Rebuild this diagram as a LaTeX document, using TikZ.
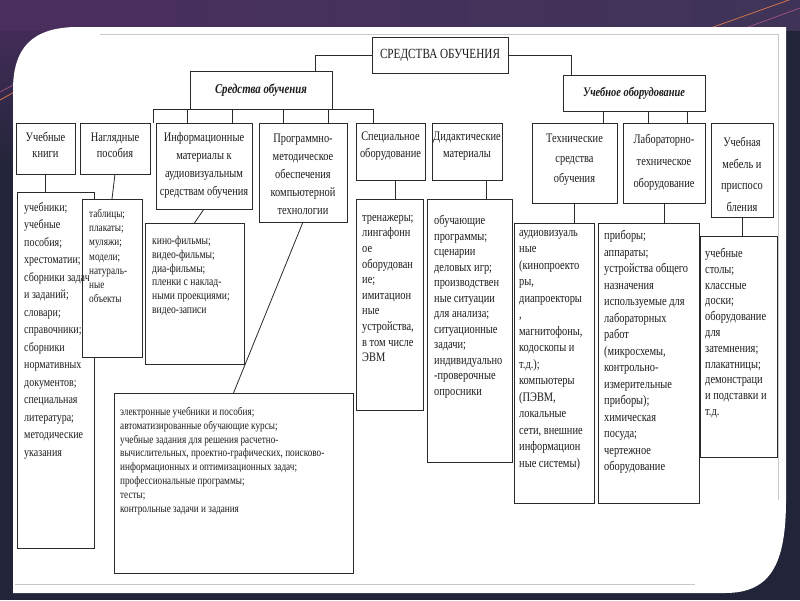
\documentclass[tikz,border=0pt]{standalone}
\usepackage{fontspec}
\setmainfont{Liberation Serif}[FakeStretch=0.8]
\usetikzlibrary{calc}
\definecolor{bgc}{HTML}{22253A}
\definecolor{bgp}{HTML}{4A2E5E}
\definecolor{bgt}{HTML}{34495A}
\definecolor{bgr}{HTML}{3F3458}
\definecolor{linec}{HTML}{2A2A2A}
\definecolor{txtc}{HTML}{1C1C1C}
\definecolor{framec}{HTML}{C8C8C8}
\definecolor{orangel}{HTML}{D2744C}
\definecolor{pinkl}{HTML}{B05A8A}
\tikzset{
  box/.style={draw=linec, line width=0.8pt, fill=white, inner sep=0pt, outer sep=0pt},
  conn/.style={draw=linec, line width=0.8pt},
  hd/.style={text=txtc, inner sep=0pt, align=center},
  ct/.style={text=txtc, inner sep=0pt, align=center, font=\fontsize{13}{#1}\selectfont},
  lt/.style 2 args={text=txtc, inner sep=0pt, align=left, anchor=north west, font=\fontsize{#1}{#2}\selectfont}
}
\newcommand\bx[5]{\node[box, anchor=north west, minimum width={(#4-#2)*1pt}, minimum height={(#5-#3)*1pt}] (#1) at (#2,#3) {};}
\begin{document}
\begin{tikzpicture}[x=1pt,y=-1pt]
\useasboundingbox (0,0) rectangle (800,600);
% background
\fill[bgc] (0,0) rectangle (800,600);
\shade[top color=bgp, bottom color=bgc] (0,0) rectangle (70,170);
\shade[left color=bgp, middle color=bgt, right color=bgr] (0,0) rectangle (800,30);
\draw[orangel, line width=0.8pt] (0,100) -- (75,58);
\draw[pinkl, line width=0.6pt] (0,92) -- (70,55);
\draw[orangel, line width=0.8pt] (705,30) -- (800,-4);
\draw[pinkl, line width=0.6pt] (740,30) -- (800,8);
% slide
\fill[white] (13,593) -- (13,90) .. controls (13,48) and (32,27) .. (78,27) -- (786,27) -- (786,500) .. controls (786,565) and (770,593) .. (725,593) -- cycle;
\draw[framec, line width=1pt] (100,34) -- (778,34) -- (778,500);
\draw[framec, line width=1pt] (15,584) -- (695,584);

% level 1 and 2
\bx{top}{372}{37}{508}{73}
\node[hd, font=\fontsize{14}{16}\selectfont] (topt) at (top.center) {СРЕДСТВА ОБУЧЕНИЯ};
\bx{sa}{190}{71}{332}{109}
\node[hd, font=\fontsize{13.5}{16}\selectfont\bfseries\itshape] (sat) at (sa.center) {Средства обучения};
\bx{sb}{563}{75}{705}{111}
\node[hd, font=\fontsize{13}{16}\selectfont\bfseries\itshape] (sbt) at (sb.center) {Учебное оборудование};
\draw[conn] (top.west) -| ($(sa.north)+(54,0)$);
\draw[conn] (top.east) -| ($(sb.north)+(-63,0)$);

% level 3 boxes
\bx{k1}{16}{123}{75}{174}
\bx{k2}{80}{123}{150}{174}
\bx{k3}{156}{123}{252}{209}
\bx{k4}{259}{123}{347}{222}
\bx{k5}{356}{123}{425}{180}
\bx{k6}{432}{123}{502}{180}
\bx{k7}{532}{123}{617}{203}
\bx{k8}{623}{123}{705}{203}
\bx{k9}{711}{123}{773}{217}
\node[ct=16] (k1t) at (45.5,145) {Учебные\\книги};
\node[ct=16] (k2t) at (115,145) {Наглядные\\пособия};
\node[ct=18] (k3t) at (204,165) {Информационные\\материалы к\\аудиовизуальным\\средствам обучения};
\node[ct=18] (k4t) at (303,174) {Программно-\\методическое\\обеспечения\\компьютерной\\технологии};
\node[ct=17] (k5t) at (390.5,146.5) {Специальное\\оборудование};
\node[ct=17] (k6t) at (467,146.5) {Дидактические\\материалы};
\node[ct=20] (k7t) at (574.5,160) {Технические\\средства\\обучения};
\node[ct=22] (k8t) at (664,162.5) {Лабораторно-\\техническое\\оборудование};
\node[ct=21.6] (k9t) at (742,174.5) {Учебная\\мебель и\\приспосо\\бления};

% buses level 2 -> level 3
\coordinate (lb1) at (153,109);
\coordinate (lb2) at (373,109);
\draw[conn] (lb1) -- (lb2);
\foreach \xx in {153,187,232,283,328,373}{
  \draw[conn] (\xx,109) -- (\xx,123);
}
\foreach \xx in {603,648,687}{
  \draw[conn] (sb.south -| \xx,0) -- (k7.north -| \xx,0);
}

% level 4 boxes
\bx{m1}{17}{192}{94}{548}
\bx{m2}{82}{199}{142}{357}
\bx{m3}{145}{223}{244}{364}
\bx{m4}{114}{393}{353}{573}
\bx{m5}{356}{199}{423}{410}
\bx{m6}{427}{199}{512}{462}
\bx{m7}{514}{223}{594}{503}
\bx{m8}{598}{223}{699}{503}
\bx{m9}{700}{236}{777}{457}

% connectors level 3 -> level 4
\draw[conn] (k1.south) -- (k1.south |- m1.north);
\draw[conn] (k2.south) -- (m2.north);
\draw[conn] (k3.south) -- (m3.north);
\draw[conn] (k4.south) -- (m4.north);
\draw[conn] ($(k5.south)+(5,0)$) -- ($(k5.south |- m5.north)+(5,0)$);
\draw[conn] ($(k6.south)+(19,0)$) -- ($(k6.south |- m6.north)+(19,0)$);
\draw[conn] (k7.south) -- (k7.south |- m7.north);
\draw[conn] (k8.south) -- (k8.south |- m8.north);
\draw[conn] (k9.south) -- (k9.south |- m9.north);

% level 4 texts
\node[lt={12.5}{17.5}] (m1t) at (24,202) {учебники;\\учебные\\пособия;\\хрестоматии;\\сборники задач\\и заданий;\\словари;\\справочники;\\сборники\\нормативных\\документов;\\специальная\\литература;\\методические\\указания};
\node[lt={11.5}{14.2}] (m2t) at (89,209) {таблицы;\\плакаты;\\муляжи;\\модели;\\натураль-\\ные\\объекты};
\node[lt={12}{13.8}] (m3t) at (152,236) {кино-фильмы;\\видео-фильмы;\\диа-фильмы;\\пленки с наклад-\\ными проекциями;\\видео-записи};
\node[lt={11.5}{13.8}] (m4t) at (120,407) {электронные учебники и пособия;\\автоматизированные обучающие курсы;\\учебные задания для решения расчетно-\\вычислительных, проектно-графических, поисково-\\информационных и оптимизационных задач;\\профессиональные программы;\\тесты;\\контрольные задачи и задания};
\node[lt={13}{15.6}] (m5t) at (362,215) {тренажеры;\\лингафонн\\ое\\оборудован\\ие;\\имитацион\\ные\\устройства,\\в том числе\\ЭВМ};
\node[lt={13}{15.5}] (m6t) at (434,215) {обучающие\\программы;\\сценарии\\деловых игр;\\производствен\\ные ситуации\\для анализа;\\ситуационные\\задачи;\\индивидуально\\-проверочные\\опросники};
\node[lt={13}{16.5}] (m7t) at (519,230) {аудиовизуаль\\ные\\(кинопроекто\\ры,\\диапроекторы\\,\\магнитофоны,\\кодоскопы и\\т.д.);\\компьютеры\\(ПЭВМ,\\локальные\\сети, внешние\\информацион\\ные системы)};
\node[lt={13}{16.5}] (m8t) at (604,230) {приборы;\\аппараты;\\устройства общего\\назначения\\используемые для\\лабораторных\\работ\\(микросхемы,\\контрольно-\\измерительные\\приборы);\\химическая\\посуда;\\чертежное\\оборудование};
\node[lt={13}{15.8}] (m9t) at (705,248) {учебные\\столы;\\классные\\доски;\\оборудование\\для\\затемнения;\\плакатницы;\\демонстраци\\и подставки и\\т.д.};
\end{tikzpicture}
\end{document}
